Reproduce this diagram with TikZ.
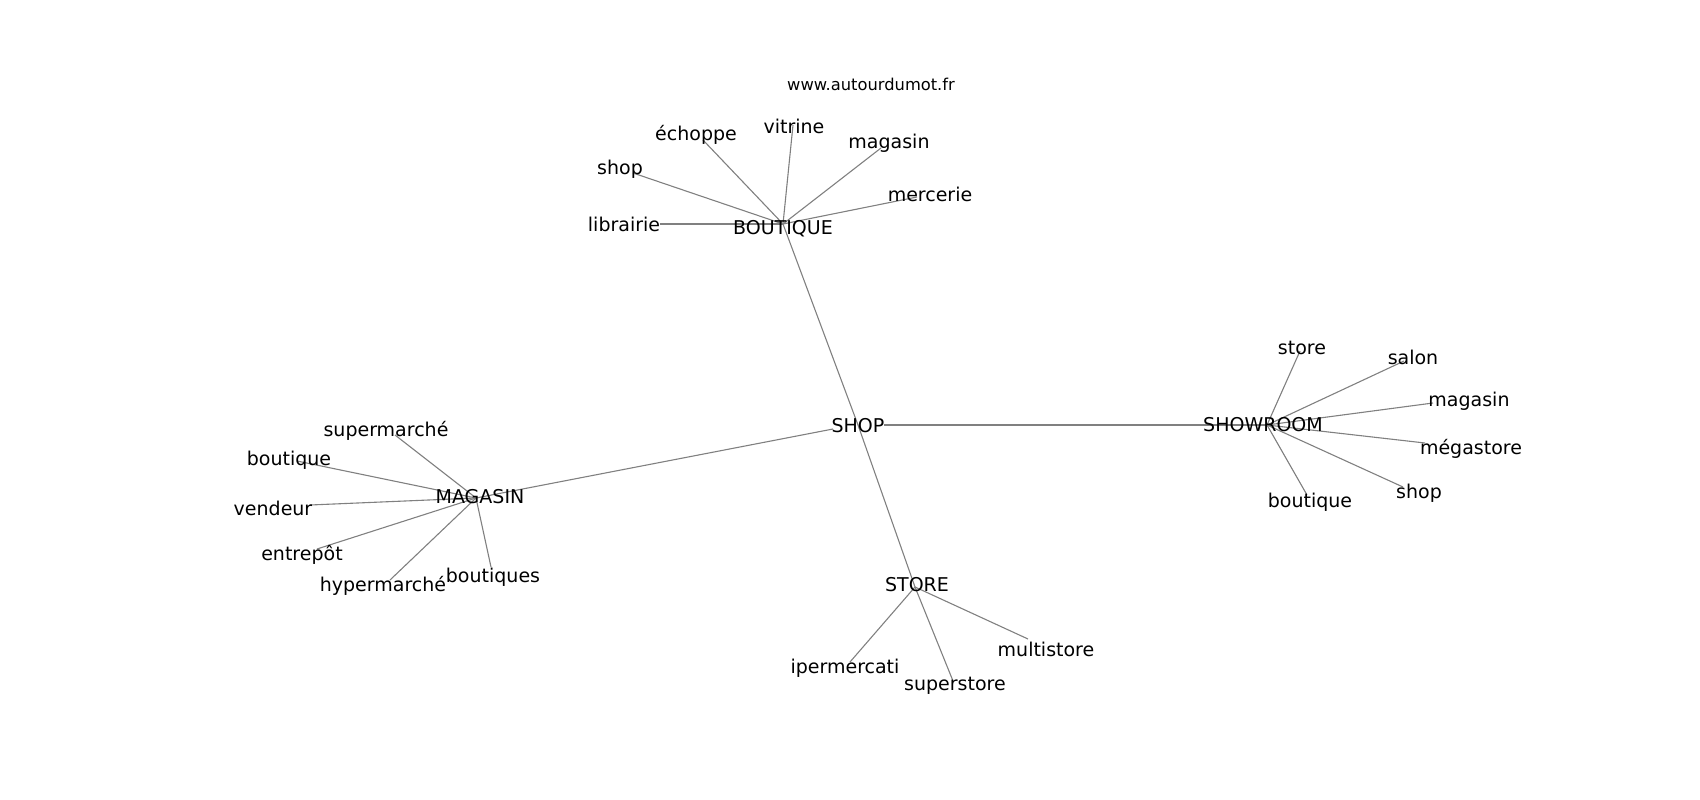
\documentclass[tikz,border=0pt]{standalone}
\usepackage{fontspec}
\setmainfont{DejaVu Sans}
\usepackage{tikz}
\usetikzlibrary{positioning}
\tikzset{
    link color/.style={black!50},
    link/.style={link color,line width=1.1pt},
    word/.style={inner sep=0pt,outer sep=0pt,text=black},
    site/.style={word,font=\fontsize{16.3}{19}\selectfont},
}
\tikzstyle{every node}=[font=\fontsize{19}{23}\selectfont]

\begin{document}
\begin{tikzpicture}[x=1pt,y=-1pt]
        \useasboundingbox (0,0) rectangle (1700,800);

        % hubs
        \coordinate (SH) at (858,425);
        \coordinate (SHl) at (833,429);
        \coordinate (SHr) at (884,425);
        \coordinate (BQ) at (783,224);
        \coordinate (MG) at (476,498);
        \coordinate (SR) at (1267,425);
        \coordinate (ST) at (915,587);

        % leaves
        \coordinate (BQ1) at (660,224);
        \coordinate (BQ2) at (633,173);
        \coordinate (BQ3) at (703,140);
        \coordinate (BQ4) at (793,125);
        \coordinate (BQ5) at (881,148);
        \coordinate (BQ6) at (917,197);

        \coordinate (MG1) at (395,435);
        \coordinate (MG2) at (297,461);
        \coordinate (MG3) at (310,505);
        \coordinate (MG4) at (317,549);
        \coordinate (MG5) at (390,580);
        \coordinate (MG6) at (491,567);

        \coordinate (SR1) at (1300,351);
        \coordinate (SR2) at (1404,361);
        \coordinate (SR3) at (1433,403);
        \coordinate (SR4) at (1425,443);
        \coordinate (SR5) at (1403,487);
        \coordinate (SR6) at (1307,495);

        \coordinate (ST1) at (850,662);
        \coordinate (ST2) at (953,681);
        \coordinate (ST3) at (1028,639);

        \draw[link] (BQ) -- (SH);
        \draw[link] (SH) -- (ST);
        \draw[link] (MG) -- (SHl);
        \draw[link] (SHr) -- (SR);
        \foreach \i in {1,...,6} {
            \draw[link] (BQ) -- (BQ\i);
            \draw[link] (MG) -- (MG\i);
            \draw[link] (SR) -- (SR\i);
        }
        \foreach \i in {1,2,3}
            \draw[link] (ST) -- (ST\i);

        \node[site] (site) at (871,84) {www.autourdumot.fr};

        \node[word] (SHt) at (858,426) {SHOP};
        \node[word] (BQt) at (783,229) {BOUTIQUE};
        \node[word] (MGt) at (480,497) {MAGASIN};
        \node[word] (SRt) at (1263,425) {SHOWROOM};
        \node[word] (STt) at (917,585) {STORE};

        \node[word] (BQ1t) at (624,224) {librairie};
        \node[word] (BQ2t) at (620,169) {shop};
        \node[word] (BQ3t) at (696,135) {échoppe};
        \node[word] (BQ4t) at (794,126) {vitrine};
        \node[word] (BQ5t) at (889,143) {magasin};
        \node[word] (BQ6t) at (930,194) {mercerie};

        \node[word] (MG1t) at (386,431) {supermarché};
        \node[word] (MG2t) at (289,460) {boutique};
        \node[word] (MG3t) at (273,508) {vendeur};
        \node[word] (MG4t) at (302,555) {entrepôt};
        \node[word] (MG5t) at (383,586) {hypermarché};
        \node[word] (MG6t) at (493,577) {boutiques};

        \node[word] (SR1t) at (1302,348) {store};
        \node[word] (SR2t) at (1413,357) {salon};
        \node[word] (SR3t) at (1469,401) {magasin};
        \node[word] (SR4t) at (1471,449) {mégastore};
        \node[word] (SR5t) at (1419,493) {shop};
        \node[word] (SR6t) at (1310,502) {boutique};

        \node[word] (ST1t) at (845,668) {ipermercati};
        \node[word] (ST2t) at (955,686) {superstore};
        \node[word] (ST3t) at (1046,649) {multistore};
    \end{tikzpicture}
\end{document}
